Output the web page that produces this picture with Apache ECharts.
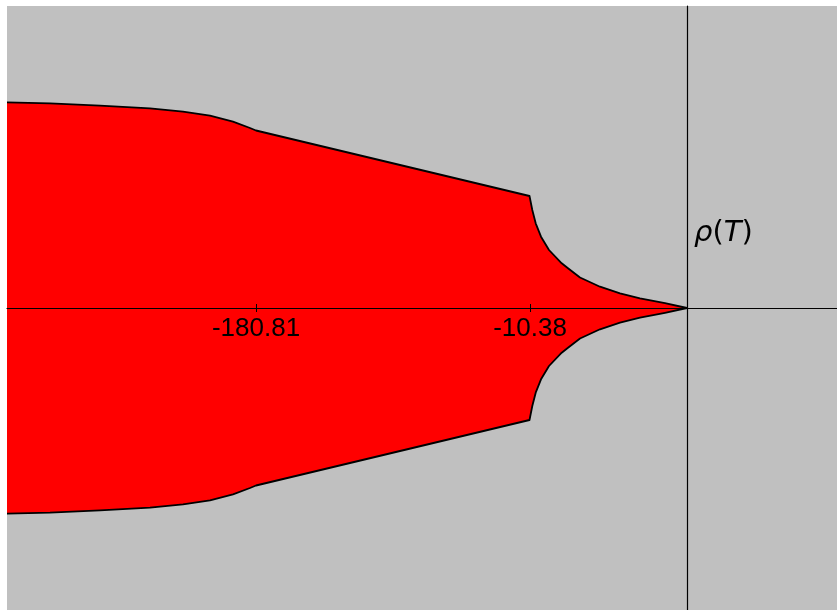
<!DOCTYPE html>
<html><head><meta charset="utf-8">
<script src="https://cdn.jsdelivr.net/npm/echarts@6/dist/echarts.min.js"></script>
<style>html,body{margin:0;padding:0;background:#fff}#c{width:837px;height:610px}</style>
</head><body><div id="c"></div>
<script>
// x in transformed axis units (origin at rho(T)), y = half-width of region
const tickPositions = [-431, -157];
const tickLabels = ['-180.81', '-10.38'];
const upperBoundary = [[-680,205.7],[-637,204.7],[-587,202.3],[-537,199.7],[-504,196.3],[-477,192.3],[-454,186.3],[-437,180],[-431,177.5],
  [-157.5,112],[-154.7,98],[-151.3,84.7],[-146,71.3],[-138,58],[-125.3,44.7],[-119,39.7],[-107,30.5],[-87,21.3],[-67,14.7],[-47,9.7],[-22,4.8],[0,0]];
const lowerBoundary = [[-680,-205.7],[-637,-204.7],[-587,-202.3],[-537,-199.7],[-504,-196.3],[-477,-192.3],[-454,-186.3],[-437,-180],[-431,-177.5],
  [-157.5,-112],[-154.7,-98],[-151.3,-84.7],[-146,-71.3],[-138,-58],[-125.3,-44.7],[-119,-39.7],[-107,-30.5],[-87,-21.3],[-67,-14.7],[-47,-9.7],[-22,-4.8],[0,0]];

const chart = echarts.init(document.getElementById('c'), null, {renderer:'canvas'});
function seg(data){
  return {type:'line', data:data, smooth:false, symbol:'none', z:2,
    lineStyle:{color:'#000', width:1.8, join:'round'}, areaStyle:{color:'#ff0000', opacity:1, origin:0}};
}
const half = 302; // grid half-height in px, used to shift the x axis to the centre line
chart.setOption({
  animation:false,
  grid:{left:7, top:6, right:0, bottom:0, show:true, backgroundColor:'#c0c0c0', borderWidth:0,
    containLabel:false, outerBoundsMode:'none'},
  xAxis:[{type:'value', min:-680, max:150, z:10, position:'bottom', offset:-half,
    axisLine:{onZero:false, lineStyle:{color:'#000', width:1.2}},
    axisTick:{show:true, length:4, customValues:tickPositions, lineStyle:{color:'#000', width:1}},
    axisLabel:{show:true, customValues:tickPositions, margin:8, color:'#000', fontSize:26, fontFamily:'Liberation Sans',
      formatter:function(v){const i=tickPositions.indexOf(v);return i>=0?tickLabels[i]:'';}},
    splitLine:{show:false}},
   {type:'value', min:-680, max:150, z:10, position:'bottom', offset:-half,
    axisLine:{show:false, onZero:false},
    axisTick:{show:true, inside:true, length:4, customValues:tickPositions, lineStyle:{color:'#000', width:1}},
    axisLabel:{show:false}, splitLine:{show:false}}],
  yAxis:{type:'value', min:-302, max:302, z:10,
    axisLine:{show:true, onZero:true, lineStyle:{color:'#000', width:1.2}},
    axisTick:{show:false}, axisLabel:{show:false}, splitLine:{show:false}},
  series:[seg(upperBoundary), seg(lowerBoundary)],
  graphic:[{type:'text', left:694, top:219, z:20,
    style:{text:'{i|ρ}{n|(}{i|T}{n|)}', fill:'#000',
      rich:{i:{fontStyle:'italic', fontSize:29, fontFamily:'DejaVu Sans', fill:'#000'},
            n:{fontSize:29, fontFamily:'DejaVu Sans', fill:'#000'}}}}]
});
</script></body></html>
